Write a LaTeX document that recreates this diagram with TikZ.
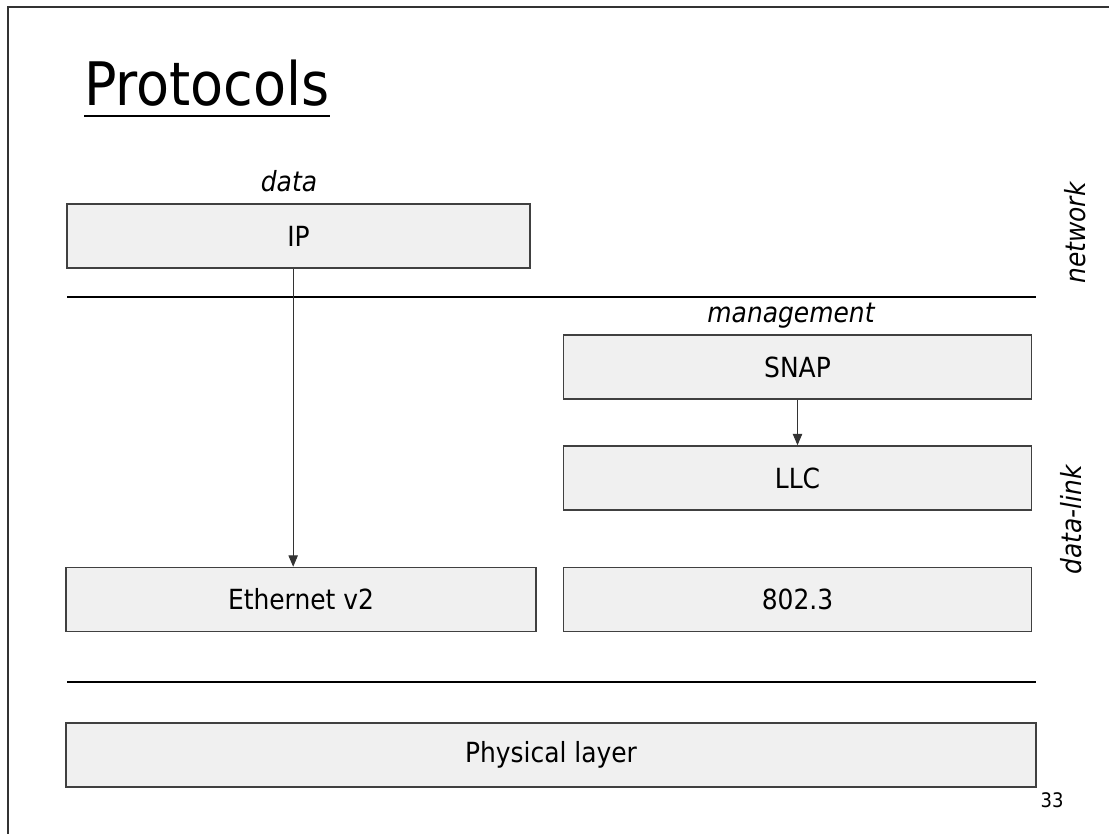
\documentclass[tikz,border=0pt]{standalone}
\usepackage{fontspec}
\setmainfont{DejaVu Sans Condensed}[ItalicFont={DejaVu Sans Condensed Oblique}]
\usetikzlibrary{arrows.meta, positioning}

\begin{document}
\begin{tikzpicture}[x={(0.75pt,0)}, y={(0,-0.75pt)},
    layer/.style={draw=black!75, fill=black!6, line width=1.1pt, minimum height=48pt, inner sep=0pt, font=\fontsize{20.8}{25}\selectfont},
    tag/.style={font=\fontsize{20.8}{25}\selectfont\itshape, inner sep=0pt, anchor=base},
    side/.style={font=\fontsize{20.8}{25}\selectfont\itshape, inner sep=0pt, rotate=90},
    sep/.style={line width=2.2pt},
    flow/.style={-{Triangle[length=8.5pt,width=7pt]}, line width=0.75pt, draw=black!80}]
  \useasboundingbox (0,0) rectangle (1109,834);
  \draw[line width=1.5pt, black!80] (8,834) -- (8,7) -- (1109,7);

  % title
  \node[inner sep=0pt, anchor=base west, font=\fontsize{45}{54}\selectfont] (title) at (84,106) {Protocols};
  \draw[sep] ([yshift=-7.5pt]title.base west) -- ([yshift=-7.5pt]title.base east);

  % network layer
  \node[tag] (data) at (289,192) {data};
  \node[layer, minimum width=347.25pt] (ip) at (298.5,236) {IP};
  \node[side] (net) at (1075,233) {network};
  \draw[sep] (67,297) -- (1036,297);

  % data-link layer
  \node[tag] (mgmt) at (791,322) {management};
  \node[layer, minimum width=351pt] (snap) at (797.5,367) {SNAP};
  \node[layer, minimum width=351pt] (llc) at (797.5,478) {LLC};
  \node[layer, minimum width=352.5pt] (eth) at (301,599.5) {Ethernet v2};
  \node[layer, minimum width=351pt] (dot3) at (797.5,599.5) {802.3};
  \node[side] (link) at (1071,520) {data-link};
  \draw[sep] (67,682) -- (1036,682);

  % physical layer
  \node[layer, minimum width=727.5pt] (phy) at (551,755) {Physical layer};
  \node[inner sep=0pt, font=\fontsize{15}{18}\selectfont] (page) at (1052,800) {33};

  \draw[flow] ([xshift=-4pt]ip.south) -- ([xshift=-4pt]ip.south |- eth.north);
  \draw[flow] (snap.south) -- (llc.north);
\end{tikzpicture}
\end{document}
